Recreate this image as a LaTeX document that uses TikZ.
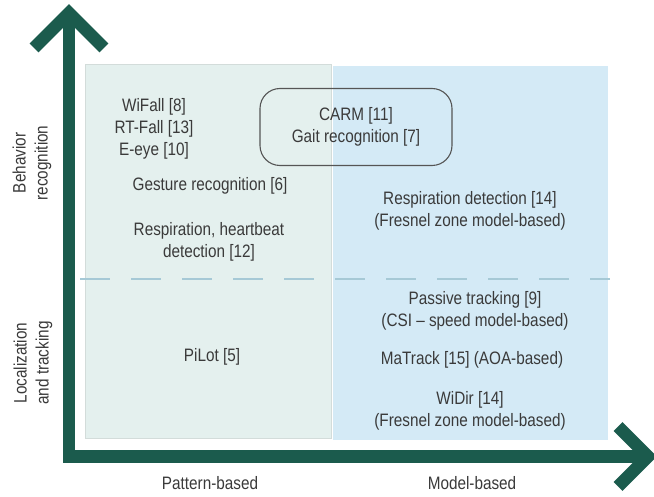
\documentclass[tikz,border=0pt]{standalone}
\usepackage{fontspec}
\setmainfont[FakeStretch=0.85]{Liberation Sans}
\begin{document}
\begin{tikzpicture}[x=1pt,y=-1pt,
  lbl/.style={font=\fontsize{18}{22}\selectfont, text=txtgray, align=center, inner sep=0pt},
  axisline/.style={draw=axisgreen, line width=12.5pt, miter limit=10},
]
\definecolor{axisgreen}{HTML}{1B5B4D}
\definecolor{txtgray}{HTML}{3A3A3A}
\definecolor{leftfill}{HTML}{E4F0EE}
\definecolor{leftborder}{HTML}{D3DCDA}
\definecolor{rightfill}{HTML}{D4EAF6}
\definecolor{dashcol}{HTML}{A6C9D6}
\definecolor{boxborder}{HTML}{555555}
\useasboundingbox (0,0) rectangle (654,497);
% quadrants
\fill[leftfill, draw=leftborder, line width=1pt] (85,65) rectangle (331,438);
\fill[rightfill] (333,66) rectangle (608,440);
% dashed separator
\coordinate (dashA) at (80,279);
\coordinate (dashB) at (610,279);
\draw[dashcol, line width=1.2pt, dash pattern=on 30pt off 21pt] (dashA) -- (dashB);
% axes
\coordinate (ytop) at (69,14);
\coordinate (orig) at (69,456.5);
\coordinate (xend) at (646,456.5);
\draw[axisline, line join=miter] (ytop) -- (orig) -- (xend);
\draw[axisline, line join=miter] (34,48) -- (69,13) -- (104,48);
\draw[axisline, line join=miter] (618,426.5) -- (648,456.5) -- (618,486.5);
% rounded box
\node[lbl, draw=boxborder, line width=1.1pt, rounded corners=20pt, minimum width=192pt, minimum height=77pt] (carm) at (356,127) {CARM [11]\\Gait recognition [7]};
% left texts
\node[lbl] (falls) at (154,129) {WiFall [8]\\RT-Fall [13]\\E-eye [10]};
\node[lbl] (gesture) at (210,186) {Gesture recognition [6]};
\node[lbl] (resp) at (209,242) {Respiration, heartbeat\\detection [12]};
\node[lbl] (pilot) at (212,357) {PiLot [5]};
% right texts
\node[lbl] (respd) at (470,211) {Respiration detection [14]\\(Fresnel zone model-based)};
\node[lbl] (passive) at (475,311) {Passive tracking [9]\\(CSI -- speed model-based)};
\node[lbl] (matrack) at (472,360) {MaTrack [15] (AOA-based)};
\node[lbl] (widir) at (470,411) {WiDir [14]\\(Fresnel zone model-based)};
% axis labels
\node[lbl] (pattern) at (210,483) {Pattern-based};
\node[lbl] (model) at (472,483) {Model-based};
\node[lbl, rotate=90] (behav) at (32,163) {Behavior\\recognition};
\node[lbl, rotate=90] (local) at (33,363) {Localization\\and tracking};
\end{tikzpicture}
\end{document}
